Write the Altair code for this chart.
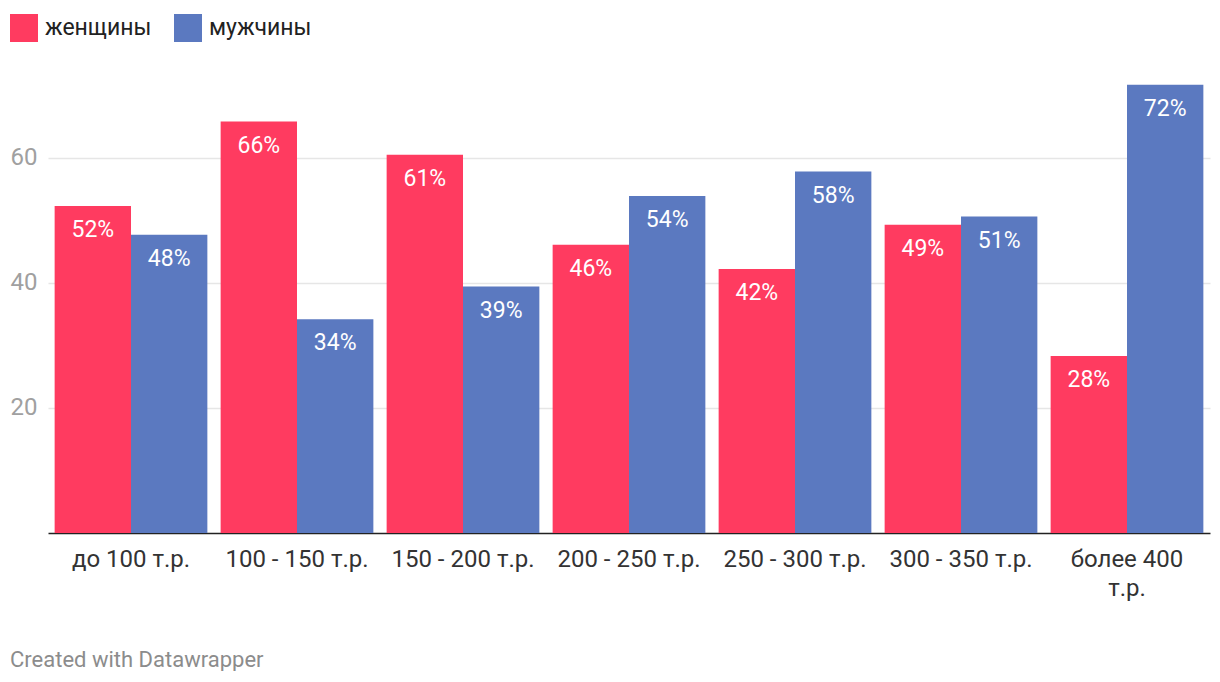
import altair as alt
import pandas as pd

categories = ["до 100 т.р.", "100 - 150 т.р.", "150 - 200 т.р.", "200 - 250 т.р.",
              "250 - 300 т.р.", "300 - 350 т.р.", "более 400 т.р."]
women = [52.3, 65.8, 60.5, 46.1, 42.2, 49.3, 28.3]
men = [47.7, 34.2, 39.4, 53.9, 57.8, 50.6, 71.7]
women_labels = ["52%", "66%", "61%", "46%", "42%", "49%", "28%"]
men_labels = ["48%", "34%", "39%", "54%", "58%", "51%", "72%"]
series = ["женщины", "мужчины"]
colors = ["#ff3b60", "#5b79c0"]
y_ticks = [20, 40, 60]

rows = []
for i, c in enumerate(categories):
    rows.append({"cat": c, "sex": series[0], "v": women[i], "lab": women_labels[i]})
    rows.append({"cat": c, "sex": series[1], "v": men[i], "lab": men_labels[i]})
df = pd.DataFrame(rows)

FONT = "Roboto"

x = alt.X("cat:N", sort=categories, title=None,
          scale=alt.Scale(paddingInner=0.08, paddingOuter=0.04),
          axis=alt.Axis(labelAngle=0, labelFontSize=24, labelColor="#333333",
                        labelFont=FONT, labelPadding=14, ticks=False,
                        domainColor="#222222", domainWidth=1.5, labelLimit=300,
                        labelExpr="datum.label == 'более 400 т.р.' ? ['более 400', 'т.р.'] : datum.label",
                        labelLineHeight=29))
y = alt.Y("v:Q", title=None,
          scale=alt.Scale(domain=[0, 75], nice=False),
          axis=alt.Axis(values=y_ticks, labelFontSize=24, labelColor="#a0a0a0",
                        labelFont=FONT, labelPadding=11, ticks=False, domain=False,
                        gridColor="#e6e6e6", gridWidth=1.5))
xo = alt.XOffset("sex:N", sort=series, scale=alt.Scale(paddingInner=0, paddingOuter=0))

bars = alt.Chart(df).mark_bar().encode(
    x=x, y=y, xOffset=xo,
    color=alt.Color("sex:N", sort=series, title=None,
                    scale=alt.Scale(domain=series, range=colors),
                    legend=alt.Legend(orient="none", legendX=-38, legendY=-50,
                                      direction="horizontal", symbolType="square",
                                      symbolSize=784, symbolStrokeWidth=0,
                                      labelFontSize=23, labelFont=FONT,
                                      labelColor="#222222", labelOffset=7,
                                      columnPadding=22, symbolOpacity=1))
)

labels = alt.Chart(df).mark_text(baseline="middle", dy=24, fontSize=23, font=FONT,
                                 color="white").encode(
    x=alt.X("cat:N", sort=categories), y="v:Q", xOffset=xo, text="lab:N"
)

chart = alt.layer(bars, labels).properties(
    width=1162, height=469,
    autosize=alt.AutoSizeParams(type="none"),
    padding={"left": 40, "top": 56, "right": 2, "bottom": 138},
    title=alt.TitleParams("Created with Datawrapper", orient="bottom", anchor="start",
                          frame="group", dx=-38, offset=50, fontSize=22,
                          font=FONT, fontWeight="normal", color="#8c8c8c"),
).configure(background="white").configure_view(strokeWidth=0, stroke="transparent")

chart.save("out.html", embed_options={"renderer": "svg", "actions": False})
